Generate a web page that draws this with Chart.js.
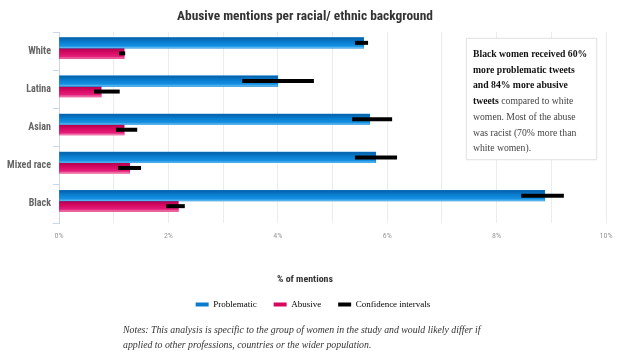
<!DOCTYPE html>
<html>
<head>
<meta charset="utf-8">
<script src="https://cdn.jsdelivr.net/npm/chart.js@4/dist/chart.umd.min.js"></script>
<style>
  html, body { margin: 0; padding: 0; background: #fff; }
  #wrap { position: relative; width: 640px; height: 355px; overflow: hidden; }
  #c { position: absolute; left: 0; top: 0; }
  #title { position: absolute; left: 0; width: 610px; top: 6px; text-align: center;
    color: #333; line-height: 20px; white-space: nowrap; }
  #xtitle { position: absolute; left: 0; width: 610px; top: 270px; text-align: center;
    color: #333; line-height: 18px; white-space: nowrap; }
  #note { position: absolute; left: 466px; top: 38px; width: 131px; height: 122px; box-sizing: border-box;
    border: 1px solid #e6e6e6; box-shadow: 0 0 2px rgba(0,0,0,0.08); background: #fff;
    padding: 7px 0 0 6px; font-family: "Liberation Serif", "Times New Roman", serif;
    font-size: 9.7px; line-height: 15.7px; color: #444; white-space: nowrap; }
  #note b { color: #111; }
  #notes { position: absolute; left: 123px; top: 322px; font-family: "Liberation Serif", serif;
    font-style: italic; font-size: 9.8px; line-height: 15px; color: #333; white-space: nowrap; }
</style>
</head>
<body>
<div id="wrap">
  <canvas id="c" width="640" height="355"></canvas>
  <div id="title">Abusive mentions per racial/ ethnic background</div>
  <div id="xtitle">% of mentions</div>
  <div id="note"><b>Black women received 60%<br>more problematic tweets<br>and 84% more abusive<br>tweets</b> compared to white<br>women. Most of the abuse<br>was racist (70% more than<br>white women).</div>
  <div id="notes">Notes: This analysis is specific to the group of women in the study and would likely differ if<br>applied to other professions, countries or the wider population.</div>
</div>
<script>
const categories = ["White", "Latina", "Asian", "Mixed race", "Black"];
const problematic = [5.57, 4.0, 5.68, 5.79, 8.88];
const abusive = [1.19, 0.77, 1.19, 1.29, 2.18];
const problematicLow = [5.41, 3.35, 5.36, 5.41, 8.45];
const problematicHigh = [5.65, 4.66, 6.09, 6.18, 9.23];
const abusiveLow = [1.10, 0.64, 1.04, 1.08, 1.96];
const abusiveHigh = [1.21, 1.11, 1.43, 1.50, 2.30];
const xTicks = [0, 2, 4, 6, 8, 10];

const BLUE = '#0a7cd0';
const PINK = '#d6075f';

// find a condensed sans face if one is installed
const mctx = document.createElement('canvas').getContext('2d');
const SAMPLE = 'Abusive mentions per racial 0123';
function widthOf(font) { mctx.font = font; return mctx.measureText(SAMPLE).width; }
function avail(fam) {
  return Math.abs(widthOf('bold 20px monospace') - widthOf('bold 20px "' + fam + '", monospace')) > 0.5;
}
let SANS = '"Liberation Sans", sans-serif';
let COND = '';
let CSS_STRETCH = 'normal';
const condFams = ['Roboto Condensed', 'Liberation Sans Narrow', 'DejaVu Sans Condensed', 'Noto Sans Condensed', 'Open Sans Condensed', 'Arial Narrow'];
const found = condFams.find(avail);
if (found) {
  SANS = '"' + found + '", sans-serif';
} else {
  for (const fam of ['Roboto', 'Noto Sans', 'Open Sans', 'DejaVu Sans', 'Liberation Sans']) {
    if (!avail(fam)) continue;
    const f = '"' + fam + '", sans-serif';
    const n = widthOf('bold 20px ' + f);
    const c = widthOf('condensed bold 20px ' + f);
    if (c < n * 0.93) { SANS = f; COND = 'condensed '; CSS_STRETCH = 'condensed'; break; }
  }
}
function fitFont(text, weight, base, target) {
  mctx.font = COND + weight + ' ' + base + 'px ' + SANS;
  const w = mctx.measureText(text).width;
  return { weight: COND + weight, size: +(base * target / w).toFixed(2) };
}
const fTitle = fitFont('Abusive mentions per racial/ ethnic background', 'bold', 14, 256);
const fCat = fitFont('Mixed race', 'bold', 11, 44);
const fAxis = fitFont('% of mentions', 'bold', 11, 56);
const fTick = fitFont('10%', 'normal', 7.5, 13);

function styleHtml(id, f) {
  const el = document.getElementById(id);
  el.style.fontFamily = SANS;
  el.style.fontWeight = 'bold';
  el.style.fontStretch = CSS_STRETCH;
  el.style.fontSize = f.size + 'px';
}
styleHtml('title', fTitle);
styleHtml('xtitle', fAxis);

// the reference draws each pair of bars slightly above the middle of its band
const BAR_SHIFT = -3;

const shadePlugin = {
  id: 'shade',
  beforeDatasetsDraw(chart) {
    chart.ctx.save();
    chart.ctx.translate(0, BAR_SHIFT);
  },
  afterDatasetDraw(chart, args) {
    const ctx = chart.ctx;
    const meta = args.meta;
    const stops = meta.index === 0
      ? [[0, '#0560a8'], [0.45, '#0a7fd2'], [0.8, '#1690e2'], [1, '#6cc4f5']]
      : [[0, '#b3004c'], [0.45, '#d90a65'], [0.8, '#e2207a'], [1, '#f590b8']];
    ctx.save();
    meta.data.forEach(el => {
      const p = el.getProps(['x', 'y', 'base', 'height'], true);
      const top = p.y - p.height / 2;
      const g = ctx.createLinearGradient(0, top, 0, top + p.height);
      stops.forEach(s => g.addColorStop(s[0], s[1]));
      ctx.fillStyle = g;
      ctx.fillRect(p.base, top, p.x - p.base, p.height);
    });
    ctx.restore();
  },
  afterDatasetsDraw(chart) {
    const ctx = chart.ctx;
    const xs = chart.scales.x;
    const sets = [[problematicLow, problematicHigh], [abusiveLow, abusiveHigh]];
    ctx.save();
    ctx.strokeStyle = '#000';
    ctx.lineWidth = 4;
    ctx.lineCap = 'butt';
    sets.forEach((s, di) => {
      const meta = chart.getDatasetMeta(di);
      meta.data.forEach((el, i) => {
        const y = el.getProps(['y'], true).y;
        ctx.beginPath();
        ctx.moveTo(xs.getPixelForValue(s[0][i]), y);
        ctx.lineTo(xs.getPixelForValue(s[1][i]), y);
        ctx.stroke();
      });
    });
    ctx.restore();
    ctx.restore(); // undo the bar shift
  }
};

// center the legend under the whole figure like the reference
const legendShift = {
  id: 'legendShift',
  afterLayout(chart) {
    if (chart.legend) { chart.legend.left += 10; chart.legend.right += 10; }
  }
};

new Chart(document.getElementById('c'), {
  type: 'bar',
  data: {
    labels: categories,
    datasets: [
      { label: 'Problematic', data: problematic, backgroundColor: BLUE, barThickness: 10.5, clip: 6 },
      { label: 'Abusive', data: abusive, backgroundColor: PINK, barThickness: 10.5, clip: 6 }
    ]
  },
  options: {
    indexAxis: 'y',
    responsive: false,
    animation: false,
    events: [],
    layout: { padding: { top: 32, right: 34, bottom: 36, left: 0 } },
    scales: {
      x: {
        min: 0, max: 10,
        afterFit(scale) { scale.height = 60; },
        afterBuildTicks(scale) {
          const t = [];
          for (let v = 0; v <= 10; v++) t.push({ value: v });
          scale.ticks = t;
        },
        ticks: {
          autoSkip: false, maxRotation: 0, padding: 8,
          color: '#9a9a9a',
          font: { family: SANS, weight: fTick.weight, size: fTick.size },
          callback: v => xTicks.includes(v) ? v + '%' : ''
        },
        grid: { color: '#ececec', drawTicks: false },
        border: { display: false },
        title: { display: false }
      },
      y: {
        afterFit(scale) { scale.width = 59; },
        ticks: {
          padding: 2, color: '#666',
          font: { family: SANS, weight: fCat.weight, size: fCat.size }
        },
        grid: { offset: true, drawOnChartArea: false, tickLength: 6, color: '#ccd6eb' },
        border: { color: '#ccd6eb' }
      }
    },
    plugins: {
      tooltip: { enabled: false },
      legend: {
        position: 'bottom',
        labels: {
          boxWidth: 13, boxHeight: 4, padding: 17, color: '#333',
          font: { family: '"Liberation Serif", serif', size: 9 },
          generateLabels(chart) {
            const items = chart.data.datasets.map((d, i) => ({
              text: d.label, fillStyle: d.backgroundColor, strokeStyle: d.backgroundColor,
              lineWidth: 0, hidden: false, datasetIndex: i
            }));
            items.push({ text: 'Confidence intervals', fillStyle: '#000', strokeStyle: '#000', lineWidth: 0, hidden: false });
            return items;
          }
        }
      }
    }
  },
  plugins: [shadePlugin, legendShift]
});
</script>
</body>
</html>
